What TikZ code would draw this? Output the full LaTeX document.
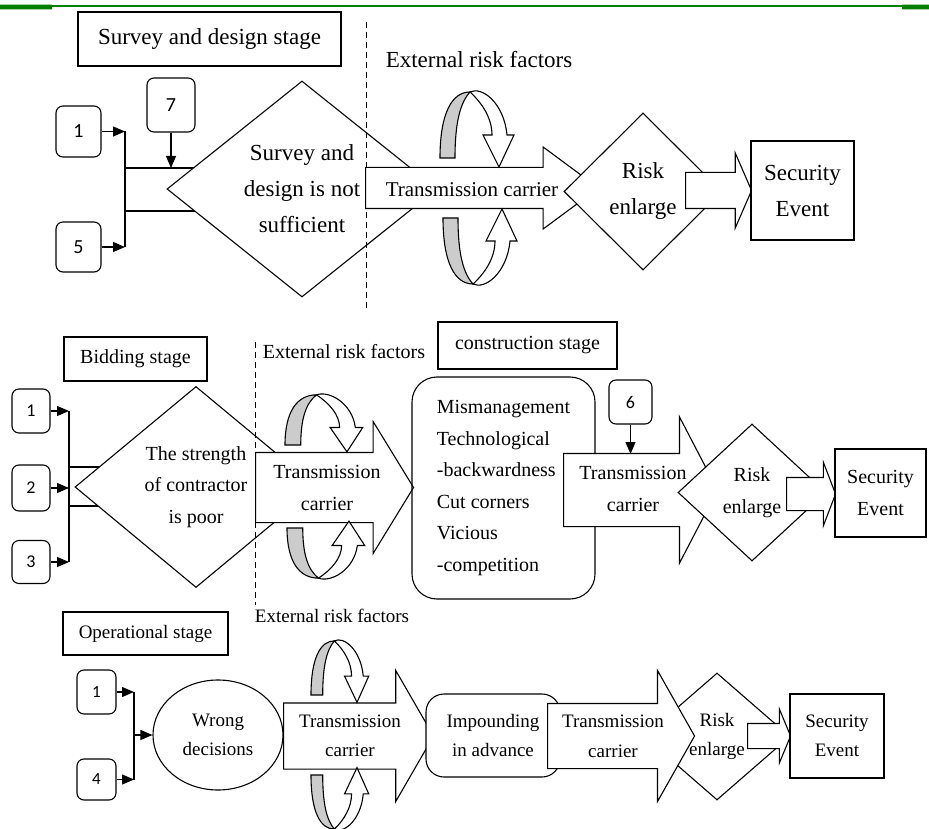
\documentclass[tikz,border=0pt]{standalone}
\usepackage{fontspec}
\setmainfont{Liberation Serif}
\newfontfamily\numfont{Carlito}
\usetikzlibrary{arrows.meta,shapes.geometric,shapes.arrows}

\begin{document}
\begin{tikzpicture}[
        x=1pt, y=-1pt,
        line width=1.1pt,
        every node/.style={inner sep=0pt},
        rowA/.style={font=\fontsize{23}{36}\selectfont},
        rowB/.style={font=\fontsize{20}{31.5}\selectfont},
        rowC/.style={font=\fontsize{19}{29}\selectfont},
        stagebox/.style={draw, line width=1.4pt},
        numbox/.style={draw, rounded corners=7pt},
        cause/.style={draw, diamond, fill=white, align=center},
        carrier/.style={draw, single arrow, fill=white, anchor=tail},
        event/.style={draw, fill=white, align=center},
        conn/.style={-{Triangle[length=12pt,width=10pt]}},
        sep/.style={dash pattern=on 6pt off 4pt, line width=1pt},
        twist/.pic={
            \filldraw[fill=gray!40] (0,0) .. controls (0,-45) and (12,-66) .. (30,-66)
                .. controls (20,-55) and (15,-35) .. (15,0) -- cycle;
            \filldraw[fill=white] (30,-66) .. controls (42,-55) and (52,-40) .. (52,-23)
                -- (43,-23) -- (59,9) -- (74,-23) -- (67,-23)
                .. controls (64,-55) and (42,-72) .. (30,-66) -- cycle;
        }
    ]

    \useasboundingbox (0,0) rectangle (929,829);

    % green rule on top
    \fill[green!50!black] (0,4.7) rectangle (929,7.3);
    \fill[green!50!black] (0,4.7) rectangle (52,9.5) (902,4.7) rectangle (929,9.5);

    % ---- survey and design stage ----
    \node[stagebox, rowA, minimum width=263pt, minimum height=54pt] (sds) at (209.5,39) {Survey and design stage};
    \node[rowA] (ext1) at (479,60) {External risk factors};

    \node[numbox, font=\numfont\fontsize{20}{24}\selectfont, minimum width=48pt, minimum height=54pt] (s7) at (171,105) {7};
    \node[numbox, font=\numfont\fontsize{20}{24}\selectfont, minimum width=45pt, minimum height=51pt] (s1) at (78.5,131.5) {1};
    \node[numbox, font=\numfont\fontsize{20}{24}\selectfont, minimum width=45pt, minimum height=50pt] (s5) at (78.5,247) {5};

    \coordinate (bus1) at (125,190);
    \coordinate (j7) at (171,168);
    \draw[conn] (s1.east) -- (s1.east -| bus1);
    \draw[conn] (s5.east) -- (s5.east -| bus1);
    \draw (s1.east -| bus1) -- (s5.east -| bus1);
    \draw (125,168) rectangle (300,211);
    \draw[conn] (s7) -- (j7);

    \node[cause, rowA, minimum width=270pt, minimum height=216pt] (d1) at (302,189) {Survey and\\design is not\\sufficient};
    \draw[sep] (366,22) -- (366,310);

    \node[carrier, minimum height=233pt, inner ysep=20pt,
          single arrow head extend=20.5pt, single arrow tip angle=73] (tc1) at (365,188) {};
    \node[font=\fontsize{21}{25}\selectfont] (tc1t) at (472,190) {Transmission carrier};
    \node[cause, rowA, minimum width=158pt, minimum height=157pt] (r1) at (643,191.5) {Risk\\enlarge};
    \node[carrier, minimum height=66pt, inner ysep=17.5pt,
          single arrow head extend=19.5pt, single arrow tip angle=133] (sa1) at (685,190.5) {};
    \node[event, rowA, minimum width=103pt, minimum height=99pt] (se1) at (802.5,190.5) {Security\\Event};

    \pic at (440,158) {twist};
    \pic[yscale=-1] at (443,218) {twist};

    % ---- bidding and construction stage ----
    \node[stagebox, rowB, minimum width=143pt, minimum height=44pt] (bid) at (135.5,359) {Bidding stage};
    \node[rowB] (ext2) at (344,352) {External risk factors};
    \node[stagebox, rowB, minimum width=179pt, minimum height=47pt] (con) at (527.5,345.5) {construction stage};

    \node[numbox, font=\numfont\fontsize{18}{22}\selectfont, minimum width=38pt, minimum height=44pt] (b1) at (31,411) {1};
    \node[numbox, font=\numfont\fontsize{18}{22}\selectfont, minimum width=38pt, minimum height=46pt] (b2) at (31,488) {2};
    \node[numbox, font=\numfont\fontsize{18}{22}\selectfont, minimum width=38pt, minimum height=43pt] (b3) at (31,562) {3};

    \coordinate (bus2) at (69,487);
    \draw[conn] (b1.east) -- (b1.east -| bus2);
    \draw[conn] (b2.east) -- (b2.east -| bus2);
    \draw[conn] (b3.east) -- (b3.east -| bus2);
    \draw (b1.east -| bus2) -- (b3.east -| bus2);
    \draw (69,467) rectangle (196,506);

    \node[cause, rowB, minimum width=242pt, minimum height=201pt] (d2) at (196,487) {The strength\\of contractor\\is poor};
    \draw[sep] (255,342) -- (255,605);

    \node[carrier, minimum height=158pt, inner ysep=34.5pt,
          single arrow head extend=31pt, single arrow tip angle=117] (tc2) at (255,487.5) {};
    \node[rowB, align=center] (tc2t) at (327,488) {Transmission\\carrier};
    \node[draw, rowB, rounded corners=25pt, align=left, minimum width=183pt, minimum height=222pt] (mis) at (503.5,488)
        {Mismanagement\\Technological\\-backwardness\\Cut corners\\Vicious\\-competition};

    \node[numbox, font=\numfont\fontsize{18}{22}\selectfont, minimum width=43pt, minimum height=44pt] (b6) at (630.5,402) {6};
    \node[carrier, minimum height=154pt, inner ysep=36pt,
          single arrow head extend=36.5pt, single arrow tip angle=125] (tc3) at (563,490) {};
    \node[font=\fontsize{20}{32}\selectfont, align=center] (tc3t) at (633,488.5) {Transmission\\carrier};
    \coordinate (j6) at (630.5,454);
    \draw[conn] (b6) -- (j6);

    \node[cause, rowB, minimum width=148pt, minimum height=137pt] (r2) at (752,492.5) {Risk\\enlarge};
    \node[carrier, minimum height=49pt, inner ysep=16pt,
          single arrow head extend=15pt, single arrow tip angle=138] (sa2) at (786,494) {};
    \node[event, rowB, minimum width=91pt, minimum height=88pt] (se2) at (880.5,493) {Security\\Event};

    \pic[xscale=1.05, yscale=0.76] at (285,445) {twist};
    \pic[xscale=1.05, yscale=-0.76] at (287,528) {twist};

    % ---- operational stage ----
    \node[stagebox, rowC, minimum width=165pt, minimum height=43pt] (ops) at (145.5,633.5) {Operational stage};
    \node[rowC] (ext3) at (332,616) {External risk factors};

    \node[numbox, font=\numfont\fontsize{17}{21}\selectfont, minimum width=39pt, minimum height=44pt] (o1) at (96.5,692) {1};
    \node[numbox, font=\numfont\fontsize{17}{21}\selectfont, minimum width=39pt, minimum height=41pt] (o4) at (96.5,779.5) {4};

    \node[draw, ellipse, rowC, align=center, minimum width=130pt, minimum height=110pt] (wd) at (218,735) {Wrong\\decisions};

    \coordinate (bus3) at (134,735);
    \draw[conn] (o1.east) -- (o1.east -| bus3);
    \draw[conn] (o4.east) -- (o4.east -| bus3);
    \draw (o1.east -| bus3) -- (o4.east -| bus3);
    \draw[conn] (bus3) -- (wd);

    \node[carrier, minimum height=150pt, inner ysep=32.5pt,
          single arrow head extend=32.5pt, single arrow tip angle=120] (tc4) at (283,736) {};
    \node[rowC, align=center] (tc4t) at (350,736) {Transmission\\carrier};
    \node[draw, fill=white, rowC, rounded corners=18pt, align=center, minimum width=134pt, minimum height=83pt] (imp) at (493,735.5) {Impounding\\in advance};
    \node[cause, rowC, minimum width=146pt, minimum height=127pt] (r3) at (717,736.5) {Risk\\enlarge};
    \node[carrier, minimum height=147pt, inner ysep=32pt,
          single arrow head extend=33pt, single arrow tip angle=121] (tc5) at (547,736) {};
    \node[font=\fontsize{19}{30}\selectfont, align=center] (tc5t) at (613,736) {Transmission\\carrier};
    \node[carrier, minimum height=43pt, inner ysep=12pt,
          single arrow head extend=14.5pt, single arrow tip angle=135] (sa3) at (747,736) {};
    \node[event, rowC, minimum width=94pt, minimum height=84pt] (se3) at (837,736) {Security\\Event};

    \pic[xscale=0.78, yscale=0.82] at (311,695) {twist};
    \pic[xscale=0.78, yscale=-0.82] at (311,775) {twist};

\end{tikzpicture}
\end{document}
